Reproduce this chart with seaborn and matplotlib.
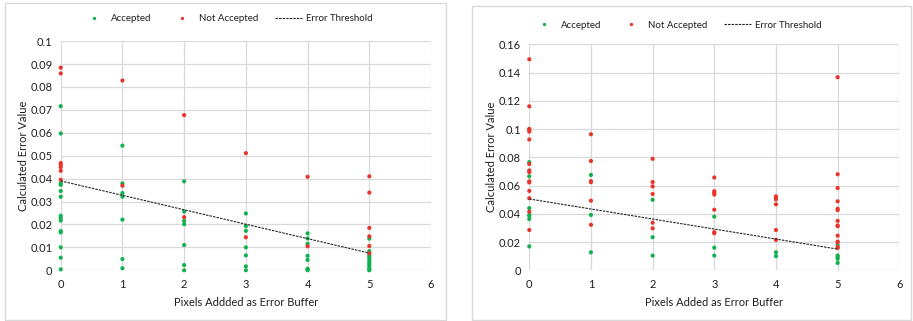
import numpy as np
import pandas as pd
import seaborn as sns
import matplotlib.pyplot as plt
from matplotlib.patches import Rectangle

# buffer sizes (x categories)
buffers = [0, 1, 2, 3, 4, 5]

# left panel, error values per buffer
left_accepted = [
    [0.0716, 0.0597, 0.0379, 0.0373, 0.0346, 0.0321, 0.0238, 0.0228, 0.0217,
     0.0171, 0.0165, 0.0100, 0.0055, 0.0004],
    [0.0544, 0.0379, 0.0337, 0.0321, 0.0221, 0.0049, 0.0009],
    [0.0388, 0.0256, 0.0215, 0.0201, 0.0110, 0.0023, 0.0],
    [0.0248, 0.0193, 0.0172, 0.0100, 0.0065, 0.0017, 0.0],
    [0.0161, 0.0139, 0.0116, 0.0063, 0.0045, 0.0007, 0.0004, 0.0],
    [0.0138, 0.0084, 0.0066, 0.0057, 0.0049, 0.0038, 0.0030, 0.0022, 0.0013,
     0.0004, 0.0],
]
left_rejected = [
    [0.0884, 0.0859, 0.0468, 0.0459, 0.0450, 0.0434, 0.0395],
    [0.0828, 0.0369],
    [0.0677, 0.0232],
    [0.0511, 0.0144],
    [0.0408, 0.0105],
    [0.0410, 0.0339, 0.0185, 0.0148, 0.0106, 0.0074],
]
left_threshold = [0.0390, 0.0327, 0.0264, 0.0201, 0.0138, 0.0075]

# right panel
right_accepted = [
    [0.0766, 0.0665, 0.0440, 0.0392, 0.0386, 0.0363, 0.0169],
    [0.0675, 0.0392, 0.0127],
    [0.0499, 0.0234, 0.0104],
    [0.0380, 0.0160, 0.0104],
    [0.0127, 0.0100],
    [0.0179, 0.0105, 0.0095, 0.0081, 0.0052],
]
right_rejected = [
    [0.1494, 0.1161, 0.1001, 0.0994, 0.0982, 0.0926, 0.0753, 0.0707, 0.0695,
     0.0630, 0.0622, 0.0562, 0.0510, 0.0415, 0.0285],
    [0.0963, 0.0774, 0.0631, 0.0624, 0.0493, 0.0322],
    [0.0789, 0.0625, 0.0594, 0.0540, 0.0337, 0.0297],
    [0.0657, 0.0560, 0.0548, 0.0536, 0.0429, 0.0270, 0.0262],
    [0.0523, 0.0512, 0.0502, 0.0467, 0.0285, 0.0215],
    [0.1367, 0.0680, 0.0582, 0.0488, 0.0436, 0.0426, 0.0350, 0.0317, 0.0312,
     0.0245, 0.0203, 0.0199, 0.0164, 0.0158],
]
right_threshold = [0.0505, 0.0434, 0.0363, 0.0292, 0.0221, 0.0150]

green = "#13b04f"
red = "#e8352b"
grid_color = "#d9d9d9"
text_color = "#1f1f1f"

sns.set_style("white")
plt.rcParams["font.family"] = ["Lato", "DejaVu Sans"]


def to_frame(accepted, rejected):
    rows = []
    for b, vals in zip(buffers, accepted):
        rows += [(b, v, "Accepted") for v in vals]
    for b, vals in zip(buffers, rejected):
        rows += [(b, v, "Not Accepted") for v in vals]
    return pd.DataFrame(rows, columns=["buffer", "error", "status"])


def draw(ax, accepted, rejected, threshold, ymax, ystep, xlabel, legend_xy):
    df = to_frame(accepted, rejected)
    sns.scatterplot(data=df, x="buffer", y="error", hue="status",
                    palette={"Accepted": green, "Not Accepted": red},
                    s=9, linewidth=0, ax=ax, zorder=3, clip_on=False)
    sns.lineplot(x=buffers, y=threshold, color="#222222", lw=0.8,
                 ax=ax, zorder=4, label="Error Threshold")
    ax.lines[-1].set_dashes([2.2, 1.0])
    ax.set_xlim(0, 6)
    ax.set_ylim(0, ymax)
    ax.set_xticks(range(7))
    ticks = np.round(np.arange(0, ymax + ystep / 2, ystep), 3)
    ax.set_yticks(ticks)
    ax.set_yticklabels([f"{t:g}" for t in ticks])
    ax.grid(True, color=grid_color, lw=0.9)
    ax.set_axisbelow(True)
    for s in ax.spines.values():
        s.set_visible(False)
    ax.tick_params(length=0, labelsize=8, colors=text_color, pad=6)
    ax.set_xlabel(xlabel, fontsize=8, color=text_color, labelpad=5)
    ax.set_ylabel("Calculated Error Value", fontsize=8, color=text_color,
                  labelpad=1)
    handles, labels = ax.get_legend_handles_labels()
    ax.legend(handles, labels, loc="center", ncol=3, frameon=False,
              bbox_to_anchor=legend_xy, bbox_transform=ax.figure.transFigure,
              fontsize=7, handlelength=2.8, handletextpad=0.35,
              columnspacing=1.7, markerscale=0.8, labelcolor=text_color)


fig = plt.figure(figsize=(9.13, 3.21), dpi=100)
ax1 = fig.add_axes([0.0665, 0.158, 0.4056, 0.714])
ax2 = fig.add_axes([0.5797, 0.158, 0.4053, 0.704])

draw(ax1, left_accepted, left_rejected, left_threshold, 0.1, 0.01,
     "Pixels Addded as Error Buffer", (0.248, 0.941))
draw(ax2, right_accepted, right_rejected, right_threshold, 0.16, 0.02,
     "Pixels Added as Error Buffer", (0.740, 0.922))

# panel frames
fig.patches.append(Rectangle((0.0055, 0.004), 0.483, 0.987, fill=False,
                             ec=grid_color, lw=1, transform=fig.transFigure))
fig.patches.append(Rectangle((0.517, 0.004), 0.481, 0.978, fill=False,
                             ec=grid_color, lw=1, transform=fig.transFigure))

fig.savefig("out.png", dpi=100)
